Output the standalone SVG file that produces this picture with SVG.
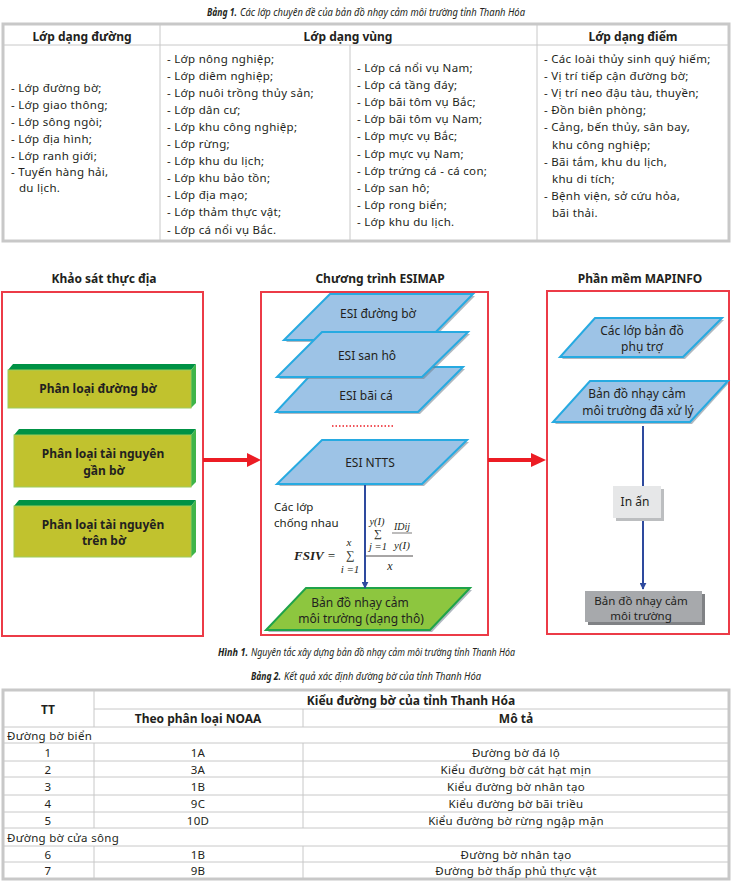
<svg xmlns="http://www.w3.org/2000/svg" width="732" height="883" viewBox="0 0 732 883">
<defs>
<style>
.t{font-family:"Noto Sans","DejaVu Sans",sans-serif;font-size:11.5px;fill:#231f20;letter-spacing:0.3px;dominant-baseline:central}
.h{font-family:"Noto Sans","DejaVu Sans",sans-serif;font-size:12px;font-weight:bold;fill:#231f20;dominant-baseline:central}
.c{font-family:"Noto Sans","DejaVu Sans",sans-serif;font-size:10px;font-style:italic;fill:#231f20;dominant-baseline:central}
.cb{font-family:"Noto Sans","DejaVu Sans",sans-serif;font-size:10px;font-style:italic;font-weight:bold;fill:#231f20;dominant-baseline:central}
.m{text-anchor:middle}
.f{font-family:"Noto Sans","DejaVu Sans",sans-serif;font-size:12px;fill:#231f20;dominant-baseline:central}
.fs{font-family:"Noto Sans","DejaVu Sans",sans-serif;font-size:11.5px;fill:#231f20;dominant-baseline:central}
.fb{font-family:"Noto Sans","DejaVu Sans",sans-serif;font-size:12px;font-weight:bold;fill:#231f20;dominant-baseline:central;text-anchor:middle}
.eq{font-family:"Liberation Serif","DejaVu Serif",serif;font-style:italic;fill:#231f20;dominant-baseline:central}
.frame{fill:none;stroke:#c8c8c8;stroke-width:3}
.ln{stroke:#c8c8c8;stroke-width:1;fill:none}
.red{fill:none;stroke:#ec3b47;stroke-width:2}
.par{fill:#9dc3e6;stroke:#27aae1;stroke-width:2;stroke-linejoin:miter}
.parg{fill:#8dc63f;stroke:#1fa34a;stroke-width:2}
.sh{fill:#6f7d8c;opacity:0.55}
.front{fill:#c1c22e;stroke:#9ccc5a;stroke-width:1}
.top{fill:#009245}
.side{fill:#3fb54a}
</style>
<marker id="ab" viewBox="0 0 10 10" refX="9" refY="5" markerWidth="7" markerHeight="7" markerUnits="userSpaceOnUse" orient="auto"><path d="M0,0 L10,5 L0,10 z" fill="#2e4a9e"/></marker>
</defs>
<rect width="732" height="883" fill="#ffffff"/>

<!-- Table 1 -->
<g id="table1">
<text class="cb" x="207" y="12" textLength="30" lengthAdjust="spacingAndGlyphs">Bảng 1.</text>
<text class="c" x="240" y="12" textLength="285" lengthAdjust="spacingAndGlyphs">Các lớp chuyên đề của bản đồ nhạy cảm môi trường tỉnh Thanh Hóa</text>
<rect class="frame" x="3" y="24" width="726" height="217"/>
<line class="ln" x1="3" y1="45" x2="729" y2="45"/>
<line class="ln" x1="160" y1="24" x2="160" y2="241"/>
<line class="ln" x1="537" y1="24" x2="537" y2="241"/>
<line class="ln" x1="350" y1="45" x2="350" y2="241"/>
<text class="h m" x="82" y="36">Lớp dạng đường</text>
<text class="h m" x="348" y="36">Lớp dạng vùng</text>
<text class="h m" x="633" y="36">Lớp dạng điểm</text>
<text class="t" x="11" y="87">- Lớp đường bờ;</text>
<text class="t" x="11" y="104">- Lớp giao thông;</text>
<text class="t" x="11" y="121">- Lớp sông ngòi;</text>
<text class="t" x="11" y="138">- Lớp địa hình;</text>
<text class="t" x="11" y="155">- Lớp ranh giới;</text>
<text class="t" x="11" y="171">- Tuyến hàng hải,</text>
<text class="t" x="19" y="187">du lịch.</text>
<text class="t" x="167" y="58">- Lớp nông nghiệp;</text>
<text class="t" x="167" y="75.1">- Lớp diêm nghiệp;</text>
<text class="t" x="167" y="92.2">- Lớp nuôi trồng thủy sản;</text>
<text class="t" x="167" y="109.3">- Lớp dân cư;</text>
<text class="t" x="167" y="126.4">- Lớp khu công nghiệp;</text>
<text class="t" x="167" y="143.5">- Lớp rừng;</text>
<text class="t" x="167" y="160.6">- Lớp khu du lịch;</text>
<text class="t" x="167" y="177.7">- Lớp khu bảo tồn;</text>
<text class="t" x="167" y="194.8">- Lớp địa mạo;</text>
<text class="t" x="167" y="211.9">- Lớp thảm thực vật;</text>
<text class="t" x="167" y="229">- Lớp cá nổi vụ Bắc.</text>
<text class="t" x="357" y="67">- Lớp cá nổi vụ Nam;</text>
<text class="t" x="357" y="84.2">- Lớp cá tầng đáy;</text>
<text class="t" x="357" y="101.4">- Lớp bãi tôm vụ Bắc;</text>
<text class="t" x="357" y="118.6">- Lớp bãi tôm vụ Nam;</text>
<text class="t" x="357" y="135.8">- Lớp mực vụ Bắc;</text>
<text class="t" x="357" y="153">- Lớp mực vụ Nam;</text>
<text class="t" x="357" y="170.2">- Lớp trứng cá - cá con;</text>
<text class="t" x="357" y="187.4">- Lớp san hô;</text>
<text class="t" x="357" y="204.6">- Lớp rong biển;</text>
<text class="t" x="357" y="221.8">- Lớp khu du lịch.</text>
<text class="t" x="544" y="58">- Các loài thủy sinh quý hiếm;</text>
<text class="t" x="544" y="75.2">- Vị trí tiếp cận đường bờ;</text>
<text class="t" x="544" y="92.4">- Vị trí neo đậu tàu, thuyền;</text>
<text class="t" x="544" y="109.6">- Đồn biên phòng;</text>
<text class="t" x="544" y="126.8">- Cảng, bến thủy, sân bay,</text>
<text class="t" x="552" y="144">khu công nghiệp;</text>
<text class="t" x="544" y="161.2">- Bãi tắm, khu du lịch,</text>
<text class="t" x="552" y="178.4">khu di tích;</text>
<text class="t" x="544" y="195.6">- Bệnh viện, sở cứu hỏa,</text>
<text class="t" x="552" y="212.8">bãi thải.</text>
</g>

<!-- Flow titles -->
<text class="fb" x="104" y="278">Khảo sát thực địa</text>
<text class="fb" x="380" y="278">Chương trình ESIMAP</text>
<text class="fb" x="640" y="278">Phần mềm MAPINFO</text>

<!-- Containers -->
<g id="khao-sat">
<rect class="red" x="2" y="292" width="201" height="344"/>
</g>
<g id="esimap">
<rect class="red" x="261" y="292" width="227" height="343"/>
</g>
<g id="mapinfo">
<rect class="red" x="547" y="291" width="182" height="343"/>
</g>

<!-- Left green boxes -->
<g id="phan-loai-duong-bo">
<polygon class="top" points="8,370 13,364 196,364 191,370"/>
<polygon class="side" points="191,370 196,364 196,403 191,408"/>
<rect class="front" x="8" y="370" width="183" height="38"/>
<text class="fb" x="98" y="388">Phân loại đường bờ</text>
</g>
<g id="phan-loai-gan-bo">
<polygon class="top" points="14,435 19,429 196,429 191,435"/>
<polygon class="side" points="191,435 196,429 196,482 191,487"/>
<rect class="front" x="14" y="435" width="177" height="52"/>
<text class="fb" x="103" y="453">Phân loại tài nguyên</text>
<text class="fb" x="104" y="470">gần bờ</text>
</g>
<g id="phan-loai-tren-bo">
<polygon class="top" points="14,506 19,500 196,500 191,506"/>
<polygon class="side" points="191,506 196,500 196,552 191,557"/>
<rect class="front" x="14" y="506" width="177" height="51"/>
<text class="fb" x="103" y="524">Phân loại tài nguyên</text>
<text class="fb" x="104" y="540">trên bờ</text>
</g>

<!-- ESIMAP layers -->
<g id="esi-duong-bo">
<polygon class="sh" points="332,296 475,296 430,342 286,342"/>
<polygon class="par" points="330,294 473,294 428,340 284,340"/>
<text class="f m" x="378" y="313">ESI đường bờ</text>
</g>
<g id="esi-bai-ca">
<polygon class="sh" points="320,369 465,369 420,414 278,414"/>
<polygon class="par" points="318,367 463,367 418,412 276,412"/>
<text class="f m" x="366" y="395">ESI bãi cá</text>
</g>
<g id="esi-san-ho">
<polygon class="sh" points="324,334 470,334 424,379 279,379"/>
<polygon class="par" points="322,332 468,332 422,377 277,377"/>
<text class="f m" x="367" y="355">ESI san hô</text>
</g>
<g id="dots">
<line x1="332" y1="426" x2="395" y2="426" stroke="#ec1c24" stroke-width="1.5" stroke-dasharray="1.5,2"/>
</g>
<g id="esi-ntts">
<polygon class="sh" points="324,442 469,442 424,486 279,486"/>
<polygon class="par" points="322,440 467,440 422,484 277,484"/>
<text class="f m" x="370" y="462">ESI NTTS</text>
</g>
<g id="cac-lop-chong-nhau">
<text class="fs" x="274" y="506">Các lớp</text>
<text class="fs" x="274" y="522">chống nhau</text>
</g>
<g id="formula">
<text class="eq" x="294" y="555" font-size="13" font-weight="bold">FSIV</text>
<text class="eq" x="327" y="555" font-size="13" font-style="normal">=</text>
<text class="eq m" x="349" y="542" font-size="11">x</text>
<text class="eq m" x="350" y="555" font-size="12" font-style="normal">∑</text>
<text class="eq m" x="350" y="569" font-size="11">i =1</text>
<line x1="366" y1="556" x2="413" y2="556" stroke="#231f20" stroke-width="0.8"/>
<text class="eq m" x="390" y="566" font-size="12">x</text>
<text class="eq m" x="377" y="521" font-size="10.5">y(I)</text>
<text class="eq m" x="378" y="533" font-size="11" font-style="normal">∑</text>
<text class="eq m" x="378" y="546" font-size="10.5">j =1</text>
<text class="eq m" x="402" y="526" font-size="10">IDij</text>
<line x1="392" y1="533" x2="412" y2="533" stroke="#231f20" stroke-width="0.6"/>
<text class="eq m" x="402" y="545" font-size="11">y(I)</text>
</g>
<g id="ban-do-dang-tho">
<polygon class="sh" points="308,590 472,590 432,632 268,632"/>
<polygon class="parg" points="306,588 470,588 430,630 266,630"/>
<text class="f m" x="360" y="602">Bản đồ nhạy cảm</text>
<text class="f m" x="361" y="618">môi trường (dạng thô)</text>
</g>

<!-- MAPINFO -->
<g id="cac-lop-ban-do-phu-tro">
<polygon class="sh" points="597,320 724,320 685,359 562,359"/>
<polygon class="par" points="595,318 722,318 683,357 560,357"/>
<text class="f m" x="642" y="330">Các lớp bản đồ</text>
<text class="f m" x="642" y="346">phụ trợ</text>
</g>
<g id="ban-do-da-xu-ly">
<polygon class="sh" points="592,383 729,383 692,424 555,424"/>
<polygon class="par" points="590,381 728,381 690,422 553,422"/>
<text class="f m" x="637" y="393">Bản đồ nhạy cảm</text>
<text class="f m" x="638" y="410">môi trường đã xử lý</text>
</g>

<!-- Connectors -->
<g id="connectors">
<line x1="203" y1="460" x2="249" y2="460" stroke="#ec1c24" stroke-width="4"/>
<polygon points="247,453 261,460 247,467" fill="#ec1c24"/>
<line x1="488" y1="460" x2="533" y2="460" stroke="#ec1c24" stroke-width="4"/>
<polygon points="531,453 546,460 531,467" fill="#ec1c24"/>
<line x1="365" y1="485" x2="365" y2="588" stroke="#2e4a9e" stroke-width="2" marker-end="url(#ab)"/>
<line x1="643" y1="426" x2="643" y2="589" stroke="#2e4a9e" stroke-width="2" marker-end="url(#ab)"/>
</g>

<g id="in-an">
<rect x="616" y="489" width="48" height="32" fill="#bcbec0"/>
<rect x="613" y="486" width="48" height="32" fill="#e6e7e8"/>
<text class="f m" x="635" y="501">In ấn</text>
</g>
<g id="ban-do-moi-truong">
<rect x="588" y="594" width="117" height="31" fill="#808285"/>
<rect x="585" y="591" width="117" height="31" fill="#a7a9ac"/>
<text class="fs m" x="641" y="600">Bản đồ nhạy cảm</text>
<text class="fs m" x="641" y="615">môi trường</text>
</g>

<text class="cb" x="218" y="652" textLength="30" lengthAdjust="spacingAndGlyphs">Hình 1.</text>
<text class="c" x="251" y="652" textLength="264" lengthAdjust="spacingAndGlyphs">Nguyên tắc xây dựng bản đồ nhạy cảm môi trường tỉnh Thanh Hóa</text>
<text class="cb" x="251" y="676" textLength="30" lengthAdjust="spacingAndGlyphs">Bảng 2.</text>
<text class="c" x="284" y="676" textLength="197" lengthAdjust="spacingAndGlyphs">Kết quả xác định đường bờ của tỉnh Thanh Hóa</text>

<!-- Table 2 -->
<g id="table2">
<rect class="frame" x="3" y="690" width="726" height="189"/>
<line class="ln" x1="94" y1="709" x2="729" y2="709"/>
<line class="ln" x1="3" y1="727" x2="729" y2="727"/>
<line class="ln" x1="3" y1="743" x2="729" y2="743"/>
<line class="ln" x1="3" y1="761" x2="729" y2="761"/>
<line class="ln" x1="3" y1="777" x2="729" y2="777"/>
<line class="ln" x1="3" y1="795" x2="729" y2="795"/>
<line class="ln" x1="3" y1="812" x2="729" y2="812"/>
<line class="ln" x1="3" y1="828" x2="729" y2="828"/>
<line class="ln" x1="3" y1="846" x2="729" y2="846"/>
<line class="ln" x1="3" y1="862" x2="729" y2="862"/>
<line class="ln" x1="94" y1="690" x2="94" y2="727"/>
<line class="ln" x1="94" y1="743" x2="94" y2="828"/>
<line class="ln" x1="94" y1="846" x2="94" y2="879"/>
<line class="ln" x1="303" y1="709" x2="303" y2="727"/>
<line class="ln" x1="303" y1="743" x2="303" y2="828"/>
<line class="ln" x1="303" y1="846" x2="303" y2="879"/>
<text class="h m" x="48" y="709">TT</text>
<text class="h m" x="411" y="700">Kiểu đường bờ của tỉnh Thanh Hóa</text>
<text class="h m" x="198" y="718">Theo phân loại NOAA</text>
<text class="h m" x="516" y="718">Mô tả</text>
<text class="t" x="7" y="735">Đường bờ biển</text>
<text class="t m" x="48" y="752">1</text><text class="t m" x="198" y="752">1A</text><text class="t m" x="516" y="752">Đường bờ đá lộ</text>
<text class="t m" x="48" y="769">2</text><text class="t m" x="198" y="769">3A</text><text class="t m" x="516" y="769">Kiểu đường bờ cát hạt mịn</text>
<text class="t m" x="48" y="786">3</text><text class="t m" x="198" y="786">1B</text><text class="t m" x="516" y="786">Kiểu đường bờ nhân tạo</text>
<text class="t m" x="48" y="803.5">4</text><text class="t m" x="198" y="803.5">9C</text><text class="t m" x="516" y="803.5">Kiểu đường bờ bãi triều</text>
<text class="t m" x="48" y="820">5</text><text class="t m" x="198" y="820">10D</text><text class="t m" x="516" y="820">Kiểu đường bờ rừng ngập mặn</text>
<text class="t" x="7" y="837">Đường bờ cửa sông</text>
<text class="t m" x="48" y="854">6</text><text class="t m" x="198" y="854">1B</text><text class="t m" x="516" y="854">Đường bờ nhân tạo</text>
<text class="t m" x="48" y="870.5">7</text><text class="t m" x="198" y="870.5">9B</text><text class="t m" x="516" y="870.5">Đường bờ thấp phủ thực vật</text>
</g>
</svg>
